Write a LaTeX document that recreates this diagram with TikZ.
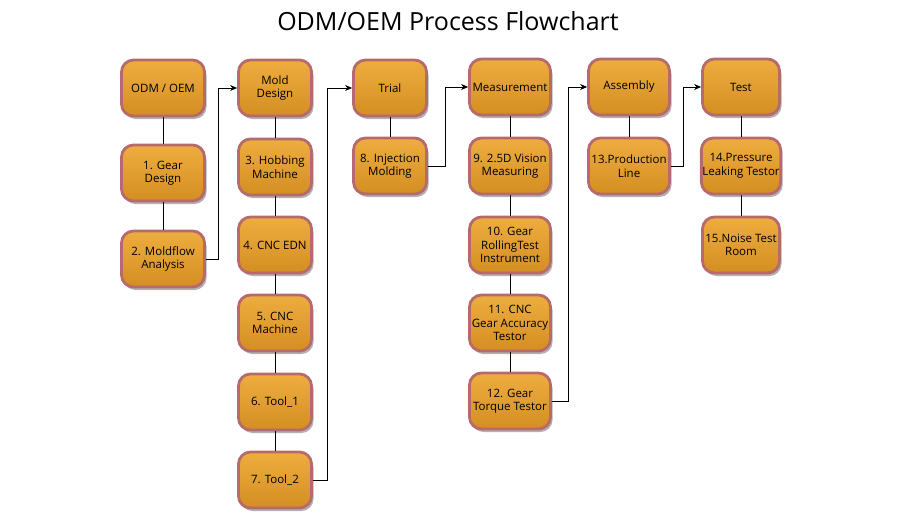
\documentclass[tikz,border=0pt]{standalone}
\usepackage{fontspec}
\setmainfont{Open Sans}
\usetikzlibrary{shadows,arrows.meta}
\definecolor{boxtop}{HTML}{EEAD40}
\definecolor{boxmid}{HTML}{E6A233}
\definecolor{boxbot}{HTML}{D48E22}
\definecolor{boxedge}{HTML}{B76A6C}
\tikzset{
  pbox/.style={rectangle, rounded corners=12pt, draw=boxedge, line width=2.8pt,
    top color=boxtop, middle color=boxmid, bottom color=boxbot, minimum height=56pt, align=center,
    font=\fontsize{11.5}{13.5}\selectfont, inner sep=1pt,
    drop shadow={shadow xshift=2pt, shadow yshift=-3pt, opacity=0.3, fill=black}},
  w1/.style={pbox, minimum width=83pt},
  w2/.style={pbox, minimum width=73pt},
  w4/.style={pbox, minimum width=81pt},
  w6/.style={pbox, minimum width=77pt},
  link/.style={draw=black, line width=0.8pt},
  elbow/.style={link, -{Stealth[length=7pt,width=6pt]}}
}
\begin{document}
\begin{tikzpicture}[x=1pt,y=-1pt]
\useasboundingbox[fill=white] (0,0) rectangle (900,520);
\node[font=\fontsize{25}{29}\selectfont] (title) at (448,21) {ODM/OEM Process Flowchart};
% column 1
\node[w1] (odm) at (163,88) {ODM / OEM};
\node[w1] (n1) at (163,173) {1. Gear\\Design};
\node[w1] (n2) at (163,259) {2. Moldflow\\Analysis};
% column 2
\node[w2] (mold) at (275,88) {Mold\\Design};
\node[w2] (n3) at (275,167) {3. Hobbing\\Machine};
\node[w2] (n4) at (275,245) {4. CNC EDN};
\node[w2] (n5) at (275,323) {5. CNC\\Machine};
\node[w2] (n6) at (275,402) {6. Tool\_1};
\node[w2] (n7) at (275,480) {7. Tool\_2};
% column 3
\node[w2] (trial) at (390,88) {Trial};
\node[w2] (n8) at (390,166) {8. Injection\\Molding};
% column 4
\node[w4] (meas) at (510,87) {Measurement};
\node[w4] (n9) at (510,166) {9. 2.5D Vision\\Measuring};
\node[w4] (n10) at (510,245) {10. Gear\\RollingTest\\Instrument};
\node[w4] (n11) at (510,323) {11. CNC\\Gear Accuracy\\Testor};
\node[w4] (n12) at (510,401) {12. Gear\\Torque Testor};
% column 5
\node[w4] (asm) at (629,87) {Assembly};
\node[w4] (n13) at (629,166) {13.Production\\Line};
% column 6
\node[w6] (test) at (741,87) {Test};
\node[w6] (n14) at (741,166) {14.Pressure\\Leaking Testor};
\node[w6] (n15) at (741,245) {15.Noise Test\\Room};
% vertical links
\draw[link] (odm) -- (n1);
\draw[link] (n1) -- (n2);
\draw[link] (mold) -- (n3);
\draw[link] (n3) -- (n4);
\draw[link] (n4) -- (n5);
\draw[link] (n5) -- (n6);
\draw[link] (n6) -- (n7);
\draw[link] (trial) -- (n8);
\draw[link] (meas) -- (n9);
\draw[link] (n9) -- (n10);
\draw[link] (n10) -- (n11);
\draw[link] (n11) -- (n12);
\draw[link] (asm) -- (n13);
\draw[link] (test) -- (n14);
\draw[link] (n14) -- (n15);
% elbow arrows
\draw[elbow] (n2.east) -- ++(12,0) |- (mold.west);
\draw[elbow] (n7.east) -- ++(14,0) |- (trial.west);
\draw[elbow] (n8.east) -- ++(17,0) |- (meas.west);
\draw[elbow] (n12.east) -- ++(16,0) |- (asm.west);
\draw[elbow] (n13.east) -- ++(12,0) |- (test.west);
\end{tikzpicture}
\end{document}
